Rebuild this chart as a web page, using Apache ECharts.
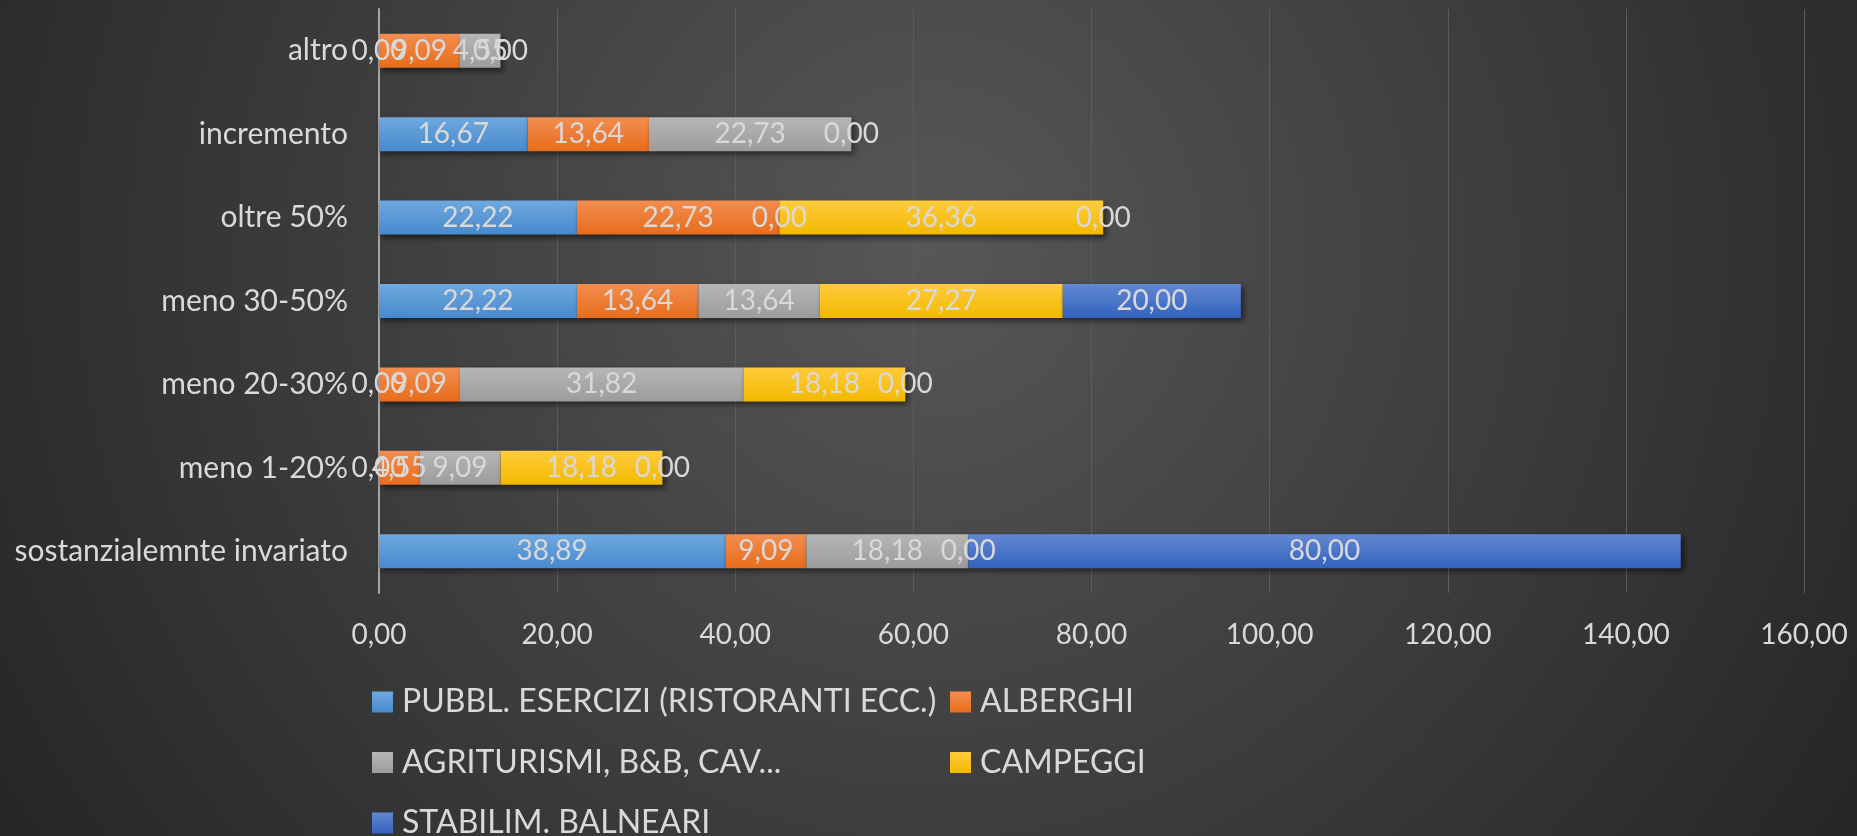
<!DOCTYPE html>
<html>
<head>
    <meta charset="utf-8">
    <title></title>
    <script src="https://cdn.jsdelivr.net/npm/echarts@6/dist/echarts.min.js"></script>
    <style>
        html, body { margin: 0; padding: 0; }
    </style>
</head>
<body>
    <div id="main" style="width: 1857px;height:836px;"></div>
    <script type="text/javascript">
var categories = ['sostanzialemnte invariato', 'meno 1-20%', 'meno 20-30%', 'meno 30-50%', 'oltre 50%', 'incremento', 'altro']
var seriesNames = ['PUBBL. ESERCIZI (RISTORANTI ECC.)', 'ALBERGHI', 'AGRITURISMI, B&B, CAV...', 'CAMPEGGI', 'STABILIM. BALNEARI']
var pubbl = [38.89, 0, 0, 22.22, 22.22, 16.67, 0]
var alberghi = [9.09, 4.55, 9.09, 13.64, 22.73, 13.64, 9.09]
var agriturismi = [18.18, 9.09, 31.82, 13.64, 0, 22.73, 4.55]
var campeggi = [0, 18.18, 18.18, 27.27, 36.36, 0, 0]
var stabilim = [80, 0, 0, 20, 0, null, null]
var xTicks = [0, 20, 40, 60, 80, 100, 120, 140, 160]

var myChart = echarts.init(document.getElementById('main'))

// colori: [alto, basso] per il gradiente delle barre
var colors = [
  ['#6ea9df', '#4889cd'],
  ['#f38d4f', '#e76d1c'],
  ['#b6b6b6', '#9c9c9c'],
  ['#ffcb3c', '#f2b900'],
  ['#6388d3', '#3262bd']
]
var fontFam = 'Lato'
var textCol = '#d9d9d9'

function fmt (v) {
  return Number(v).toFixed(2).replace('.', ',')
}

var allData = [pubbl, alberghi, agriturismi, campeggi, stabilim]
var series = []
for (var i = 0; i < seriesNames.length; i++) {
  series.push({
    name: seriesNames[i],
    type: 'bar',
    stack: 'tot',
    barWidth: 34,
    data: allData[i],
    itemStyle: {
      color: new echarts.graphic.LinearGradient(0, 0, 0, 1, [
        { offset: 0, color: colors[i][0] },
        { offset: 1, color: colors[i][1] }
      ]),
      shadowBlur: 6,
      shadowOffsetX: 3,
      shadowOffsetY: 3,
      shadowColor: 'rgba(0,0,0,0.55)'
    },
    label: {
      show: true,
      position: 'inside',
      color: textCol,
      fontFamily: fontFam,
      fontSize: 28,
      formatter: function (p) { return fmt(p.value) }
    },
    emphasis: { disabled: true }
  })
}

var legendText = { color: textCol, fontFamily: fontFam, fontSize: 32, lineHeight: 32, padding: [0, 0, 0, 4] }

var option = {
  backgroundColor: new echarts.graphic.RadialGradient(0.5, 0.3, 1.3, [
    { offset: 0, color: '#575757' },
    { offset: 1, color: '#262626' }
  ]),
  animation: false,
  grid: {
    left: 379,
    right: 53,
    top: 9,
    bottom: 243
  },
  legend: [{
    orient: 'vertical',
    left: 372,
    top: 686,
    height: 300,
    padding: 0,
    itemWidth: 21,
    itemHeight: 21,
    itemGap: 28.5,
    icon: 'rect',
    data: [seriesNames[0], seriesNames[2], seriesNames[4]],
    textStyle: legendText
  }, {
    orient: 'vertical',
    left: 950,
    top: 686,
    height: 300,
    padding: 0,
    itemWidth: 21,
    itemHeight: 21,
    itemGap: 28.5,
    icon: 'rect',
    data: [seriesNames[1], seriesNames[3]],
    textStyle: legendText
  }],
  xAxis: {
    type: 'value',
    min: xTicks[0],
    max: xTicks[xTicks.length - 1],
    interval: xTicks[1] - xTicks[0],
    axisLine: { show: false },
    axisTick: { show: false },
    splitLine: { lineStyle: { color: '#5c5c5c', width: 1 } },
    axisLabel: {
      color: textCol,
      fontFamily: fontFam,
      fontSize: 28,
      margin: 28,
      formatter: function (v) { return fmt(v) }
    }
  },
  yAxis: {
    type: 'category',
    data: categories,
    axisLine: { show: true, lineStyle: { color: '#a6a6a6', width: 2 } },
    axisTick: { show: false },
    axisLabel: {
      color: textCol,
      fontFamily: fontFam,
      fontSize: 30,
      margin: 31
    }
  },
  series: series
}
myChart.setOption(option)
    </script>
</body>
</html>
